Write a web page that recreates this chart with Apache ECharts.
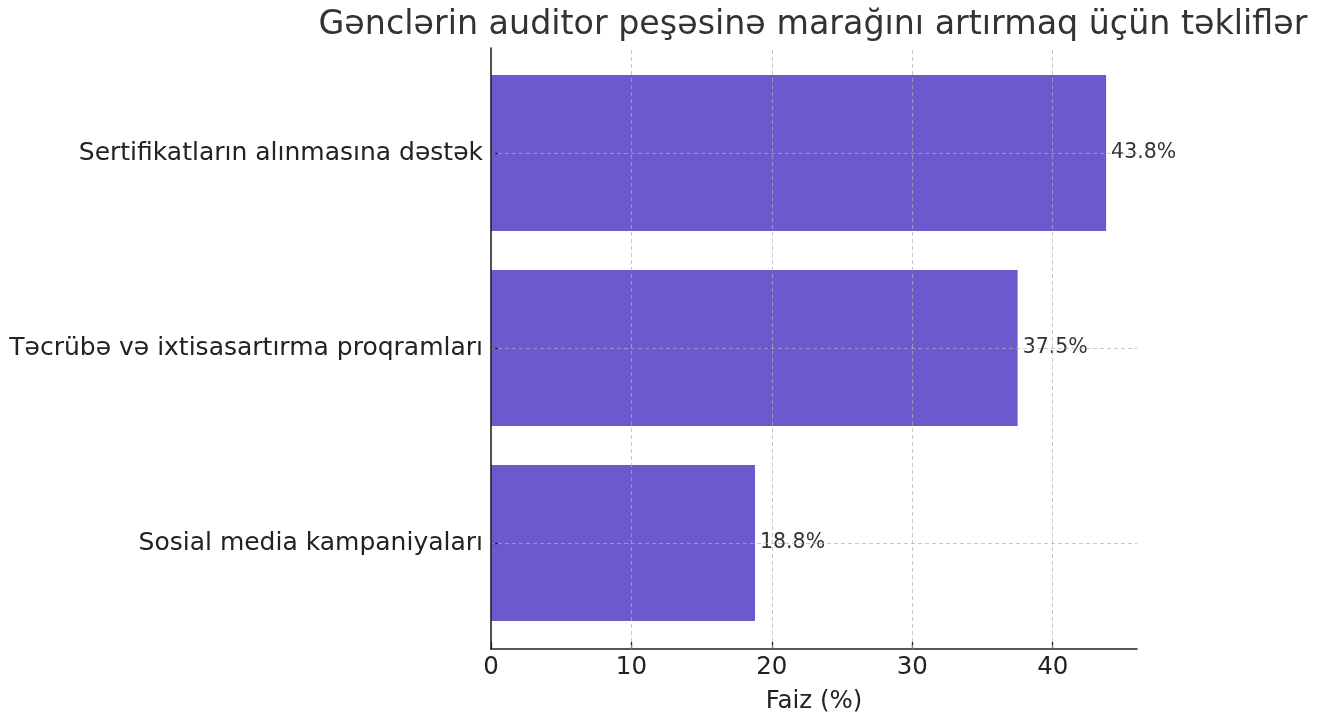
<!DOCTYPE html>
<html>
<head>
<meta charset="utf-8">
<script src="https://cdn.jsdelivr.net/npm/echarts@6/dist/echarts.min.js"></script>
<style>
  html, body { margin: 0; padding: 0; background: #fff; }
  #chart { width: 1326px; height: 713px; }
</style>
</head>
<body>
<div id="chart"></div>
<script>
// kateqoriyalar və faizlər
var categories = ['Sertifikatların alınmasına dəstək', 'Təcrübə və ixtisasartırma proqramları', 'Sosial media kampaniyaları']
var values = [43.8, 37.5, 18.8]
var xTicks = [0, 10, 20, 30, 40]

var FONT = 'DejaVu Sans'
var barColor = '#6a5acd'
var gridColor = 'rgba(176,176,176,0.7)'
var axisColor = '#222'

var chart = echarts.init(document.getElementById('chart'))
chart.setOption({
  backgroundColor: '#fff',
  animation: false,
  textStyle: { fontFamily: FONT },
  graphic: [{
    type: 'text',
    x: 813,
    y: 25,
    style: {
      text: 'Gənclərin auditor peşəsinə marağını artırmaq üçün təkliflər',
      fontFamily: FONT,
      fontSize: 33.3,
      fill: '#333',
      align: 'center',
      verticalAlign: 'middle'
    }
  }],
  grid: [
    // bars
    { left: 491, right: 189, top: 55.5, height: 585, outerBoundsMode: 'none' },
    // spine + x axis
    { left: 491, right: 189, top: 48, height: 601, outerBoundsMode: 'none' }
  ],
  xAxis: [{
    gridIndex: 0,
    type: 'value',
    min: 0,
    max: 46,
    show: false
  }, {
    gridIndex: 1,
    type: 'value',
    min: 0,
    max: 46,
    interval: 10,
    z: 4,
    name: 'Faiz (%)',
    nameLocation: 'middle',
    nameGap: 40,
    nameTextStyle: { fontFamily: FONT, fontSize: 24.5, color: axisColor },
    axisLine: { show: true, lineStyle: { color: axisColor, width: 1.6 } },
    axisTick: { show: true, inside: true, length: 7, lineStyle: { color: axisColor, width: 1.3 } },
    axisLabel: {
      fontFamily: FONT, fontSize: 24.5, color: axisColor, margin: 6,
      showMaxLabel: false,
      formatter: function (v) { return xTicks.indexOf(v) >= 0 ? String(v) : '' }
    },
    splitLine: { show: false }
  }],
  yAxis: [{
    gridIndex: 0,
    type: 'category',
    inverse: true,
    data: categories,
    z: 4,
    axisLine: { show: false },
    axisTick: { show: true, inside: true, alignWithLabel: true, length: 7, lineStyle: { color: axisColor, width: 1.3 } },
    axisLabel: { fontFamily: FONT, fontSize: 25, color: axisColor, margin: 8, padding: [5, 0, 0, 0] },
    splitLine: { show: false }
  }, {
    gridIndex: 1,
    type: 'value',
    min: 0,
    max: 1,
    z: 5,
    axisLine: { show: true, lineStyle: { color: axisColor, width: 1.6 } },
    axisTick: { show: false },
    axisLabel: { show: false },
    splitLine: { show: false }
  }],
  series: [{
    type: 'bar',
    xAxisIndex: 0,
    yAxisIndex: 0,
    data: values,
    barWidth: '80%',
    itemStyle: { color: barColor },
    label: {
      show: true,
      position: 'right',
      distance: 5,
      fontFamily: FONT,
      fontSize: 20.5,
      color: '#333',
      formatter: function (p) { return p.value.toFixed(1) + '%' }
    },
    markLine: {
      silent: true,
      symbol: 'none',
      label: { show: false },
      lineStyle: { color: gridColor, type: [4, 3], width: 1 },
      data: categories.map(function (c) { return { yAxis: c } })
    }
  }, {
    // vertical grid lines on top of the bars, full axes height
    type: 'line',
    xAxisIndex: 1,
    yAxisIndex: 1,
    data: [],
    silent: true,
    markLine: {
      silent: true,
      symbol: 'none',
      label: { show: false },
      lineStyle: { color: gridColor, type: [4, 3], width: 1 },
      data: xTicks.filter(function (t) { return t > 0 }).map(function (t) { return { xAxis: t } })
    }
  }]
})
</script>
</body>
</html>
